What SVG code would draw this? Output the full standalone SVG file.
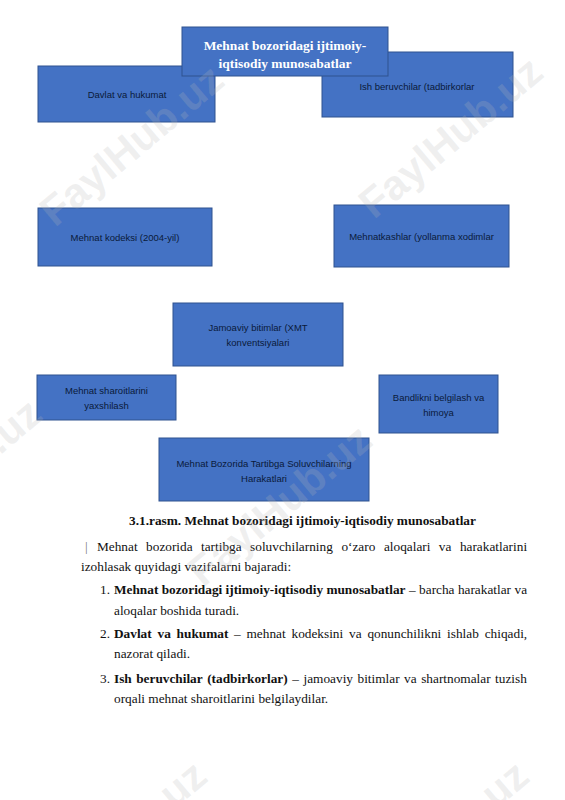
<svg xmlns="http://www.w3.org/2000/svg" width="565" height="800" viewBox="0 0 565 800">
<style>
.box{fill:#4472C4;stroke:#2F528F;stroke-width:1}
.bt{font-family:"Liberation Sans",Arial,sans-serif;font-size:9.5px;fill:#0a1a3a;text-anchor:middle}
.tt{font-family:"Liberation Serif","Times New Roman",serif;font-size:13.5px;font-weight:bold;fill:#ffffff;text-anchor:middle}
.body{font-family:"Liberation Serif","Times New Roman",serif;font-size:13.3px;fill:#111111}
.b{font-weight:bold}
.wm{font-family:"Liberation Sans",Arial,sans-serif;font-size:42px;font-weight:bold;fill:#b8b8b8;fill-opacity:0.22}
</style>
<rect width="565" height="800" fill="#ffffff"/>
<g id="connectors"></g>
<g id="davlat"><rect class="box" x="38" y="66" width="177" height="56"/><text class="bt" x="127" y="98">Davlat va hukumat</text></g>
<g id="ish"><rect class="box" x="322" y="52" width="191" height="65"/><text class="bt" x="417" y="90">Ish beruvchilar (tadbirkorlar</text></g>
<g id="title"><rect class="box" x="182" y="27" width="206" height="49"/><text class="tt" x="285" y="50">Mehnat bozoridagi ijtimoiy-</text><text class="tt" x="285" y="68">iqtisodiy munosabatlar</text></g>
<g id="kodeks"><rect class="box" x="38" y="208" width="174" height="58"/><text class="bt" x="125" y="241">Mehnat kodeksi (2004-yil)</text></g>
<g id="mehnatkash"><rect class="box" x="334" y="205" width="175" height="62"/><text class="bt" x="421.5" y="240">Mehnatkashlar  (yollanma xodimlar</text></g>
<g id="jamoaviy"><rect class="box" x="173" y="303" width="170" height="63"/><text class="bt" x="258" y="331">Jamoaviy bitimlar (XMT</text><text class="bt" x="258" y="346">konventsiyalari</text></g>
<g id="sharoit"><rect class="box" x="37" y="375" width="139" height="45"/><text class="bt" x="106.5" y="394">Mehnat sharoitlarini</text><text class="bt" x="106.5" y="409">yaxshilash</text></g>
<g id="bandlik"><rect class="box" x="379" y="375" width="119" height="58"/><text class="bt" x="438.5" y="401">Bandlikni belgilash   va</text><text class="bt" x="438.5" y="416">himoya</text></g>
<g id="harakat"><rect class="box" x="159" y="438" width="210" height="63"/><text class="bt" x="264" y="467">Mehnat Bozorida Tartibga Soluvchilarning</text><text class="bt" x="264" y="482">Harakatlari</text></g>
<g id="text">
<text class="body b" x="302.5" y="525" text-anchor="middle">3.1.rasm. Mehnat bozoridagi ijtimoiy-iqtisodiy munosabatlar</text>
<text class="body" y="551"><tspan x="85" fill="#777">|</tspan><tspan x="97">Mehnat</tspan><tspan x="146.1">bozorida</tspan><tspan x="201">tartibga</tspan><tspan x="250.1">soluvchilarning</tspan><tspan x="341.4">o‘zaro</tspan><tspan x="383.9">aloqalari</tspan><tspan x="438.8">va</tspan><tspan x="459.9">harakatlarini</tspan></text>
<text class="body" x="81" y="571">izohlasak quyidagi vazifalarni bajaradi:</text>
<text class="body" y="594"><tspan x="100">1.</tspan><tspan x="114" class="b">Mehnat bozoridagi ijtimoiy-iqtisodiy munosabatlar</tspan><tspan x="409.1">–</tspan><tspan x="419.1">barcha</tspan><tspan x="457.9">harakatlar</tspan><tspan x="514.5">va</tspan></text>
<text class="body" x="114" y="615">aloqalar boshida turadi.</text>
<text class="body" y="638"><tspan x="100">2.</tspan><tspan x="114" class="b">Davlat</tspan><tspan x="157.5" class="b">va</tspan><tspan x="176.6" class="b">hukumat</tspan><tspan x="234.1">–</tspan><tspan x="246.5">mehnat</tspan><tspan x="291.5">kodeksini</tspan><tspan x="349">va</tspan><tspan x="367.4">qonunchilikni</tspan><tspan x="447.1">ishlab</tspan><tspan x="484.7">chiqadi,</tspan></text>
<text class="body" x="114" y="658">nazorat qiladi.</text>
<text class="body" y="683"><tspan x="100">3.</tspan><tspan x="114" class="b">Ish</tspan><tspan x="136.2" class="b">beruvchilar</tspan><tspan x="207.2" class="b">(tadbirkorlar)</tspan><tspan x="292.3">–</tspan><tspan x="303.5">jamoaviy</tspan><tspan x="357.5">bitimlar</tspan><tspan x="404.1">va</tspan><tspan x="421.2">shartnomalar</tspan><tspan x="495.1">tuzish</tspan></text>
<text class="body" x="114" y="703">orqali mehnat sharoitlarini belgilaydilar.</text>
</g>
<g id="watermark">
<text class="wm" transform="translate(55,228) rotate(-40)">FaylHub.uz</text>
<text class="wm" transform="translate(374,220) rotate(-40)">FaylHub.uz</text>
<text class="wm" transform="translate(-127,562) rotate(-40)">FaylHub.uz</text>
<text class="wm" transform="translate(203,588) rotate(-40)">FaylHub.uz</text>
<text class="wm" transform="translate(38,924) rotate(-40)">FaylHub.uz</text>
<text class="wm" transform="translate(360,924) rotate(-40)">FaylHub.uz</text>
</g>
</svg>
